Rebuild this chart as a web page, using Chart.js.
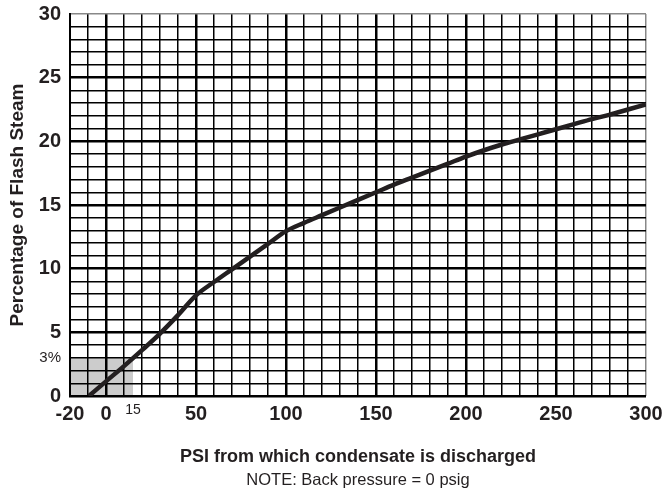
<!DOCTYPE html>
<html>
<head>
<meta charset="utf-8">
<script src="https://cdn.jsdelivr.net/npm/chart.js@4.4.1/dist/chart.umd.min.js"></script>
<style>
  html, body { margin: 0; padding: 0; background: #fff; }
  #wrap { width: 663px; height: 493px; }
</style>
</head>
<body>
<div id="wrap"><canvas id="flashChart"></canvas></div>
<script>
// flash steam curve
const psi   = [-9.5, 0, 10, 20, 30, 40, 50, 60, 70, 80, 90, 100, 110, 120, 130, 140, 150,
               160, 170, 180, 190, 200, 210, 220, 230, 240, 250, 260, 270, 280, 290, 300];
const flash = [0, 1.15, 2.35, 3.6, 4.9, 6.35, 7.9, 8.95, 9.95, 10.95, 11.95, 12.95, 13.6, 14.2, 14.8, 15.4, 16.0,
               16.6, 17.15, 17.7, 18.25, 18.8, 19.3, 19.75, 20.15, 20.55, 20.95, 21.35, 21.75, 22.1, 22.5, 22.9];

// shaded box: 15 psi -> 3%
const shadeX = [-20, 15];
const shadeY = 3;

const xLabels = [-20, 0, 15, 50, 100, 150, 200, 250, 300];
const yLabels = [0, 3, 5, 10, 15, 20, 25, 30];

const FONT = '"Liberation Sans", Arial, sans-serif';
const INK = '#231f20';

const notePlugin = {
    id: 'note',
    afterDraw(chart) {
        const ctx = chart.ctx;
        const area = chart.chartArea;
        ctx.save();
        ctx.font = '16.5px ' + FONT;
        ctx.fillStyle = INK;
        ctx.textAlign = 'center';
        ctx.textBaseline = 'middle';
        ctx.fillText('NOTE: Back pressure = 0 psig', (area.left + area.right) / 2, 480);
        ctx.restore();
    }
};

new Chart(document.getElementById('flashChart'), {
    type: 'line',
    data: {
        datasets: [{
            label: 'Flash steam',
            data: psi.map((p, i) => ({ x: p, y: flash[i] })),
            borderColor: INK,
            borderWidth: 4.5,
            pointRadius: 0,
            cubicInterpolationMode: 'monotone',
            fill: false
        }, {
            label: 'shade',
            data: shadeX.map(x => ({ x: x, y: shadeY })),
            borderWidth: 0,
            pointRadius: 0,
            backgroundColor: '#cccccc',
            fill: 'origin'
        }]
    },
    options: {
        responsive: true,
        maintainAspectRatio: false,
        animation: false,
        layout: { padding: { top: 14, right: 17, bottom: 0, left: 0 } },
        plugins: {
            legend: { display: false },
            tooltip: { enabled: false },
            filler: { drawTime: 'beforeDraw' }
        },
        scales: {
            x: {
                type: 'linear',
                min: -20,
                max: 300,
                afterBuildTicks(scale) {
                    scale.ticks.push({ value: 15 });
                    scale.ticks.sort((a, b) => a.value - b.value);
                },
                afterFit(scale) {
                    scale.height = 97;
                    scale.paddingLeft = 0;
                    scale.paddingRight = 0;
                },
                border: { display: false },
                grid: {
                    drawTicks: false,
                    color: c => c.tick.value === 15 ? 'rgba(0,0,0,0)' : (c.tick.value === 300 ? '#888' : '#000'),
                    lineWidth: c => (c.tick.value % 50 === 0 && c.tick.value !== 300) ? 2.5 : 1.5
                },
                ticks: {
                    stepSize: 10,
                    autoSkip: false,
                    maxRotation: 0,
                    padding: 6,
                    color: INK,
                    font: c => (c.tick && c.tick.value === 15)
                        ? { family: FONT, size: 14, weight: 'normal' }
                        : { family: FONT, size: 20, weight: 'bold' },
                    callback: v => xLabels.includes(v) ? String(v) : ''
                },
                title: {
                    display: true,
                    text: 'PSI from which condensate is discharged',
                    color: INK,
                    font: { family: FONT, size: 18, weight: 'bold' },
                    padding: { top: 0, bottom: 25 }
                }
            },
            y: {
                min: 0,
                max: 30,
                afterFit(scale) {
                    scale.width = 70;
                    scale.paddingTop = 0;
                    scale.paddingBottom = 0;
                },
                border: { display: true, color: '#000', width: 2 },
                grid: {
                    drawTicks: false,
                    color: c => c.tick.value === 30 ? '#888' : '#000',
                    lineWidth: c => (c.tick.value % 5 === 0 && c.tick.value !== 30) ? 2.5 : 1.5
                },
                ticks: {
                    stepSize: 1,
                    autoSkip: false,
                    padding: 9,
                    color: INK,
                    font: c => (c.tick && c.tick.value === 3)
                        ? { family: FONT, size: 15, weight: 'normal' }
                        : { family: FONT, size: 20, weight: 'bold' },
                    callback: v => yLabels.includes(v) ? (v === 3 ? '3%' : String(v)) : ''
                },
                title: {
                    display: true,
                    text: 'Percentage of Flash Steam',
                    color: INK,
                    font: { family: FONT, size: 19, weight: 'bold' },
                    padding: { top: 6, bottom: 0 }
                }
            }
        }
    },
    plugins: [notePlugin]
});
</script>
</body>
</html>
